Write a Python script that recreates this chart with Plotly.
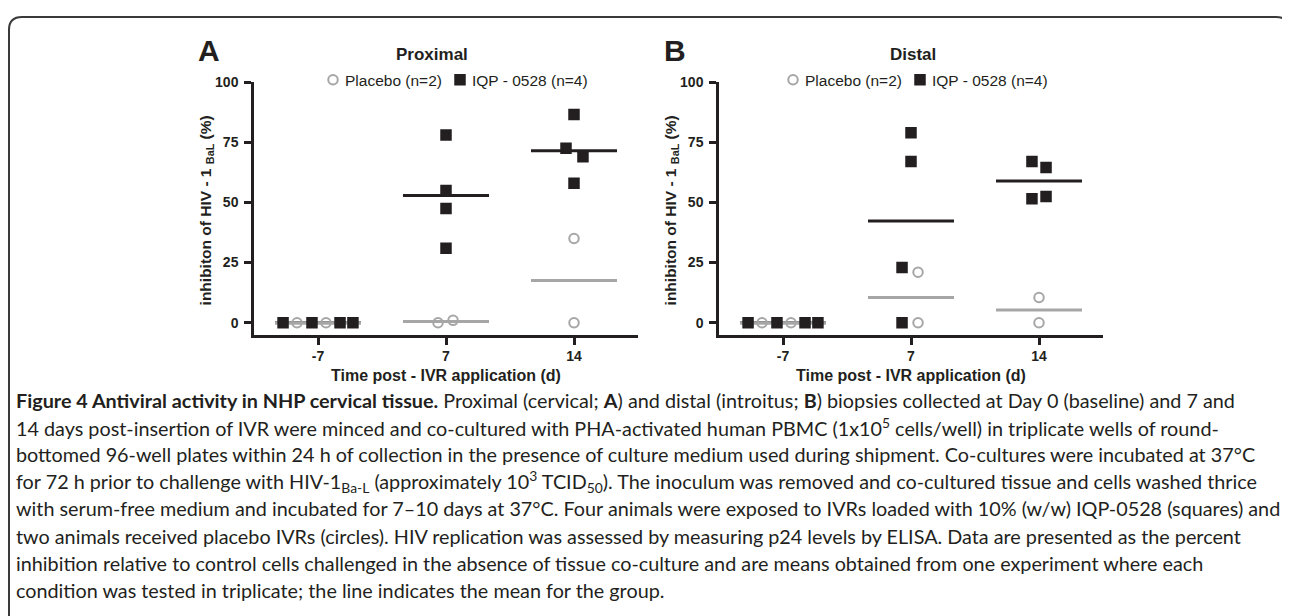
import plotly.graph_objects as go

# page is offset by the browser's default 8px body margin
OFF = 8
W, H = 1290 - OFF, 616 - OFF

# ---------------- data ----------------
days = ["-7", "7", "14"]

# Panel A - Proximal
prox_placebo = [[0, 0], [0, 1], [35, 0]]
prox_iqp = [[0, 0, 0, 0], [78, 55, 47.5, 31], [86.5, 72.5, 69, 58]]
# Panel B - Distal
dist_placebo = [[0, 0], [21, 0], [10.5, 0]]
dist_iqp = [[0, 0, 0, 0], [79, 67, 23, 0], [67, 64.5, 51.5, 52.5]]

# horizontal scatter of points within a day (category units)
prox_placebo_jit = [[-0.164, 0.0625], [-0.0625, 0.055], [0, 0]]
prox_iqp_jit = [[-0.273, -0.047, 0.172, 0.273], [0, 0, 0, 0], [0, -0.0625, 0.07, 0]]
dist_placebo_jit = [[-0.164, 0.0625], [0.055, 0.055], [0, 0]]
dist_iqp_jit = [[-0.273, -0.047, 0.172, 0.273], [0, 0, -0.07, -0.07], [-0.055, 0.055, -0.055, 0.055]]

y_ticks = [0, 25, 50, 75, 100]
panel_titles = ["Proximal", "Distal"]
panel_letters = ["A", "B"]
placebo_name = "Placebo (n=2)"
iqp_name = "IQP - 0528 (n=4)"
y_title = "inhibiton of HIV - 1 <sub>BaL</sub> (%)"
x_title = "Time post - IVR application (d)"

caption = [
    "<b>Figure 4 Antiviral activity in NHP cervical tissue.</b> Proximal (cervical; <b>A</b>) and distal (introitus; <b>B</b>) biopsies collected at Day 0 (baseline) and 7 and",
    "14 days post-insertion of IVR were minced and co-cultured with PHA-activated human PBMC (1x10<sup>5</sup> cells/well) in triplicate wells of round-",
    "bottomed 96-well plates within 24 h of collection in the presence of culture medium used during shipment. Co-cultures were incubated at 37°C",
    "for 72 h prior to challenge with HIV-1<sub>Ba-L</sub> (approximately 10<sup>3</sup> TCID<sub>50</sub>). The inoculum was removed and co-cultured tissue and cells washed thrice",
    "with serum-free medium and incubated for 7–10 days at 37°C. Four animals were exposed to IVRs loaded with 10% (w/w) IQP-0528 (squares) and",
    "two animals received placebo IVRs (circles). HIV replication was assessed by measuring p24 levels by ELISA. Data are presented as the percent",
    "inhibition relative to control cells challenged in the absence of tissue co-culture and are means obtained from one experiment where each",
    "condition was tested in triplicate; the line indicates the mean for the group.",
]

# ---------------- styles ----------------
BLACK = "#231f20"
GRAY = "#a6a6a6"
AX_FONT = "Liberation Sans, Arial, sans-serif"
CAP_FONT = "Lato, Open Sans, sans-serif"
HALF = 0.336


def px(x):
    return (x - OFF) / W


def py(y):
    return 1 - (y - OFF) / H


fig = go.Figure()

panels = [
    dict(pl=prox_placebo, iq=prox_iqp, plj=prox_placebo_jit, iqj=prox_iqp_jit,
         xa="x", ya="y", legend="legend"),
    dict(pl=dist_placebo, iq=dist_iqp, plj=dist_placebo_jit, iqj=dist_iqp_jit,
         xa="x2", ya="y2", legend="legend2"),
]


def mean(v):
    return sum(v) / len(v)


for p in panels:
    for grp, col in ((p["iq"], BLACK), (p["pl"], GRAY)):
        xs, ys = [], []
        for i, vals in enumerate(grp):
            m = mean(vals)
            xs += [i - HALF, i + HALF, None]
            ys += [m, m, None]
        fig.add_trace(go.Scatter(x=xs, y=ys, mode="lines", line=dict(color=col, width=3),
                                 xaxis=p["xa"], yaxis=p["ya"], showlegend=False, hoverinfo="skip"))
    xs, ys = [], []
    for i, (vals, jit) in enumerate(zip(p["pl"], p["plj"])):
        for v, j in zip(vals, jit):
            xs.append(i + j)
            ys.append(v)
    # legend labels are written as annotations next to the legend symbols
    fig.add_trace(go.Scatter(x=xs, y=ys, mode="markers", name="", hovertext=placebo_name,
                             marker=dict(symbol="circle-open", size=9.5, color=GRAY, line=dict(width=2, color=GRAY)),
                             xaxis=p["xa"], yaxis=p["ya"], legend=p["legend"], showlegend=True))
    xs, ys = [], []
    for i, (vals, jit) in enumerate(zip(p["iq"], p["iqj"])):
        for v, j in zip(vals, jit):
            xs.append(i + j)
            ys.append(v)
    fig.add_trace(go.Scatter(x=xs, y=ys, mode="markers", name="", hovertext=iqp_name,
                             marker=dict(symbol="square", size=11.5, color=BLACK, line=dict(width=0)),
                             xaxis=p["xa"], yaxis=p["ya"], legend=p["legend"], showlegend=True))

tickfont = dict(family=AX_FONT, size=14, color=BLACK, weight="bold")
common_x = dict(range=[-0.5, 2.5], tickmode="array", tickvals=[0, 1, 2], ticktext=days,
                showline=True, linecolor=BLACK, linewidth=2.5, ticks="outside", ticklen=7,
                tickwidth=2.5, tickcolor=BLACK, tickfont=tickfont, showgrid=False, zeroline=False,
                fixedrange=True)
common_y = dict(range=[-5, 100], tickmode="array", tickvals=y_ticks, ticktext=[str(t) for t in y_ticks],
                showline=True, linecolor=BLACK, linewidth=2.5, ticks="outside", ticklen=7,
                tickwidth=2.5, tickcolor=BLACK, tickfont=tickfont, showgrid=False, zeroline=False,
                ticklabelstandoff=3, fixedrange=True)

ydom = [py(331), py(75)]
fig.update_layout(
    width=W, height=H, margin=dict(l=0, r=0, t=0, b=0),
    paper_bgcolor="white", plot_bgcolor="white",
    xaxis=dict(domain=[px(254), px(638)], anchor="y", **common_x),
    yaxis=dict(domain=ydom, anchor="x", **common_y),
    xaxis2=dict(domain=[px(719), px(1103)], anchor="y2", **common_x),
    yaxis2=dict(domain=ydom, anchor="x2", **common_y),
)

legend_common = dict(orientation="h", yanchor="middle", y=py(73), xanchor="left",
                     bgcolor="rgba(0,0,0,0)", borderwidth=0, itemwidth=30,
                     entrywidth=82, entrywidthmode="pixels",
                     font=dict(family=AX_FONT, size=15.5, color=BLACK), traceorder="normal")
fig.update_layout(legend=dict(x=px(313), **legend_common),
                  legend2=dict(x=px(773), **legend_common))

ann = []
legend_label_x = [(343, 470), (803, 930)]
for k, (cx_axis, letter_x, title_x, ytitle_x) in enumerate([(446, 209, 432, 206), (911, 675, 913, 671)]):
    ann.append(dict(text=panel_letters[k], x=px(letter_x), y=py(43), xref="paper", yref="paper",
                    showarrow=False, xanchor="center", yanchor="middle",
                    font=dict(family=AX_FONT, size=30, color=BLACK, weight="bold")))
    ann.append(dict(text=panel_titles[k], x=px(title_x), y=py(47), xref="paper", yref="paper",
                    showarrow=False, xanchor="center", yanchor="middle",
                    font=dict(family=AX_FONT, size=17, color=BLACK, weight="bold")))
    ann.append(dict(text=y_title, x=px(ytitle_x), y=py(205), xref="paper", yref="paper",
                    showarrow=False, xanchor="center", yanchor="middle", textangle=-90,
                    font=dict(family=AX_FONT, size=15.5, color=BLACK, weight="bold")))
    ann.append(dict(text=x_title, x=px(cx_axis), y=py(372), xref="paper", yref="paper",
                    showarrow=False, xanchor="center", yanchor="middle",
                    font=dict(family=AX_FONT, size=16, color=BLACK, weight="bold")))
    for lbl, lx in zip((placebo_name, iqp_name), legend_label_x[k]):
        ann.append(dict(text=lbl, x=px(lx), y=py(73), xref="paper", yref="paper",
                        showarrow=False, xanchor="left", yanchor="middle",
                        font=dict(family=AX_FONT, size=15.5, color=BLACK)))

for i, line in enumerate(caption):
    ann.append(dict(text=line, x=px(14), y=py(397 + 27.5 * i), xref="paper", yref="paper",
                    showarrow=False, xanchor="left", yanchor="middle", align="left",
                    font=dict(family=CAP_FONT, size=19.8, color=BLACK)))

fig.update_layout(annotations=ann)

# rounded frame
r = 13
x0, x1 = px(9), px(1289)
y0, y1 = py(9), py(640)
path = (f"M {x0},{y1} L {x0},{py(9 + r)} Q {x0},{y0} {px(9 + r)},{y0} "
        f"L {px(1289 - r)},{y0} Q {x1},{y0} {x1},{py(9 + r)} L {x1},{y1}")
fig.add_shape(type="path", path=path, xref="paper", yref="paper",
              line=dict(color="#3a3a3a", width=2))

fig.write_html("out.html")
